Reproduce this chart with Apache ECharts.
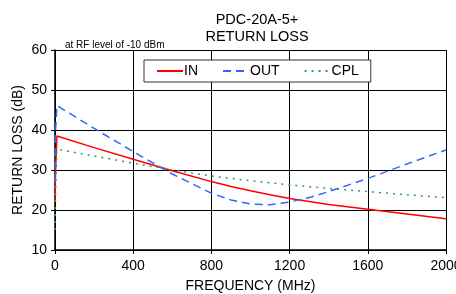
<!DOCTYPE html>
<html>
<head>
<meta charset="utf-8">
<script src="https://cdn.jsdelivr.net/npm/echarts@6/dist/echarts.min.js"></script>
<style>
html, body { margin: 0; padding: 0; background: #fff; }
#container { width: 456px; height: 294px; }
</style>
</head>
<body>
<div id="container"></div>
<script>
// frequency points (MHz)
var freqs = [0, 3, 10, 200, 400, 600, 800, 900, 1000, 1100, 1200, 1300, 1400, 1600, 1800, 2000];
// return loss (dB)
var inLoss  = [22, 30, 38.5, 35.6, 32.7, 29.8, 27.1, 25.9, 24.8, 23.8, 22.9, 22.1, 21.4, 20.2, 19.0, 17.8];
var outLoss = [27, 40, 46.1, 40.4, 34.6, 29.0, 24.2, 22.5, 21.5, 21.3, 22.0, 23.1, 24.6, 27.9, 31.5, 35.0];
var cplLoss = [15, 25, 35.2, 33.5, 31.7, 30.0, 28.5, 27.9, 27.3, 26.8, 26.3, 25.8, 25.4, 24.6, 23.8, 23.1];

function pairs(vals) {
	return freqs.map(function (f, i) { return [f, vals[i]]; });
}

var myChart = echarts.init(document.getElementById('container'));

myChart.setOption({
	animation : false,
	textStyle : { fontFamily : 'Liberation Sans, Arial, sans-serif' },
	title : [ {
		text : 'PDC-20A-5+\nRETURN LOSS',
		left : 252,
		top : 6,
		textAlign : 'center',
		textStyle : { fontSize : 14.5, fontWeight : 'normal', color : '#000', lineHeight : 17 }
	}, {
		text : 'at RF level of -10 dBm',
		left : 60,
		top : 35,
		textStyle : { fontSize : 10, fontWeight : 'normal', color : '#000' }
	} ],
	legend : {
		left : 144,
		top : 60,
		width : 214,
		height : 24,
		padding : [4, 12, 4, 12],
		itemGap : 24,
		itemWidth : 26,
		itemHeight : 10,
		backgroundColor : '#fff',
		borderColor : '#333',
		borderWidth : 1,
		itemStyle : { opacity : 0 },
		textStyle : { fontSize : 14, color : '#000', padding : [0, 0, 0, -4] },
		data : [ 'IN', 'OUT', 'CPL' ]
	},
	grid : {
		left : 55,
		right : 10,
		top : 50,
		bottom : 44,
		containLabel : false,
		outerBoundsMode : 'none'
	},
	xAxis : {
		type : 'value',
		min : 0,
		max : 2000,
		interval : 400,
		name : 'FREQUENCY (MHz)',
		nameLocation : 'middle',
		nameGap : 29,
		nameTextStyle : { fontSize : 14, color : '#000' },
		axisLine : { lineStyle : { color : '#000', width : 1.5 } },
		axisTick : { show : true, length : 4, lineStyle : { color : '#000' } },
		axisLabel : { fontSize : 14, color : '#000', margin : 9, formatter : function (v) { return String(v); } },
		splitLine : { show : true, lineStyle : { color : '#000', width : 1 } }
	},
	yAxis : {
		type : 'value',
		min : 10,
		max : 60,
		interval : 10,
		name : 'RETURN LOSS (dB)',
		nameLocation : 'middle',
		nameGap : 30,
		nameMoveOverlap : false,
		nameTextStyle : { fontSize : 14, color : '#000' },
		axisLine : { show : true, lineStyle : { color : '#000', width : 1.5 } },
		axisTick : { show : true, length : 4, lineStyle : { color : '#000' } },
		axisLabel : { fontSize : 14, color : '#000', margin : 8 },
		splitLine : { show : true, lineStyle : { color : '#000', width : 1 } }
	},
	series : [ {
		name : 'IN',
		type : 'line',
		data : pairs(inLoss),
		symbol : 'none',
		color : '#ff0000',
		lineStyle : { color : '#ff0000', width : 1.5 }
	}, {
		name : 'OUT',
		type : 'line',
		data : pairs(outLoss),
		symbol : 'none',
		color : '#3366ff',
		lineStyle : { color : '#3366ff', width : 1.5, type : [8, 5] }
	}, {
		name : 'CPL',
		type : 'line',
		data : pairs(cplLoss),
		symbol : 'none',
		color : '#339966',
		lineStyle : { color : '#339966', width : 1.5, type : [2, 5] }
	} ]
});
</script>
</body>
</html>
